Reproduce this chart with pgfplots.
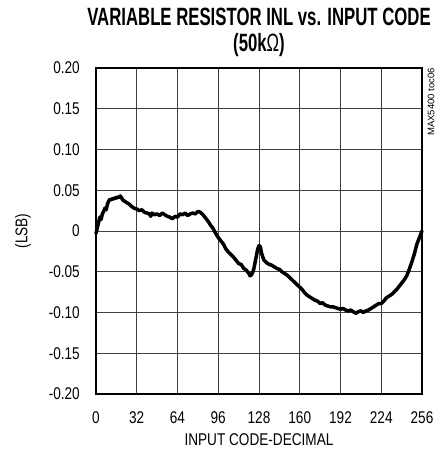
\documentclass[border=0pt]{standalone}
\usepackage{fontspec}
\setmainfont{Liberation Sans}[FakeStretch=0.8]
\newfontfamily\titlefont{Liberation Sans}[FakeStretch=0.67]
\newfontfamily\plainfont{Liberation Sans}
\usepackage{pgfplots}
\pgfplotsset{compat=1.18}

\pgfplotstableread{
code inl
0 -0.003
1 0.004
2 0.010
3 0.017
4 0.014
5 0.021
6 0.024
7 0.028
8 0.026
9 0.033
10 0.037
11 0.039
12 0.038
13 0.040
14 0.039
15 0.041
16 0.040
17 0.042
18 0.041
19 0.043
20 0.041
21 0.038
22 0.037
24 0.035
26 0.033
28 0.030
30 0.028
32 0.027
34 0.025
36 0.026
38 0.023
40 0.022
42 0.021
43 0.018
44 0.022
46 0.020
48 0.021
50 0.019
52 0.022
54 0.020
56 0.018
58 0.017
60 0.015
62 0.018
64 0.017
66 0.021
68 0.020
70 0.022
72 0.019
74 0.021
76 0.022
78 0.021
80 0.024
82 0.023
84 0.020
86 0.016
88 0.012
90 0.007
92 0.003
94 -0.003
96 -0.008
98 -0.012
100 -0.016
102 -0.022
104 -0.026
106 -0.029
108 -0.032
110 -0.036
112 -0.040
114 -0.041
116 -0.046
118 -0.048
120 -0.052
121 -0.055
122 -0.054
123 -0.051
124 -0.046
125 -0.038
126 -0.030
127 -0.022
128 -0.018
129 -0.019
130 -0.027
131 -0.032
132 -0.036
134 -0.039
136 -0.041
138 -0.042
140 -0.044
142 -0.046
144 -0.047
146 -0.050
148 -0.052
150 -0.054
152 -0.057
154 -0.060
156 -0.063
158 -0.066
160 -0.069
162 -0.072
164 -0.076
166 -0.079
168 -0.081
170 -0.083
172 -0.085
174 -0.086
176 -0.089
178 -0.088
180 -0.091
182 -0.092
184 -0.093
186 -0.093
188 -0.094
190 -0.095
192 -0.096
194 -0.095
196 -0.097
198 -0.098
200 -0.097
202 -0.099
204 -0.101
206 -0.099
208 -0.098
210 -0.100
212 -0.098
214 -0.097
216 -0.095
218 -0.093
220 -0.091
222 -0.089
224 -0.089
226 -0.086
228 -0.082
230 -0.080
232 -0.078
234 -0.075
236 -0.072
238 -0.068
240 -0.064
242 -0.060
244 -0.055
246 -0.047
248 -0.038
250 -0.028
252 -0.016
254 -0.008
256 0.000
}\inltable

\begin{document}
\begin{tikzpicture}
\useasboundingbox (-96pt,-60pt) rectangle (349pt,394pt);
\begin{axis}[
    scale only axis,
    width=326pt, height=326pt,
    xmin=0, xmax=256,
    ymin=-0.20, ymax=0.20,
    xtick={0,32,...,256},
    ytick={-0.20,-0.15,-0.10,-0.05,0,0.05,0.10,0.15,0.20},
    yticklabels={-0.20,-0.15,-0.10,-0.05,0,0.05,0.10,0.15,0.20},
    /pgf/number format/assume math mode=true,
    major tick length=0pt,
    grid=major,
    major grid style={black!75, line width=0.9pt},
    axis line style={line width=2.6pt},
    tick label style={font=\fontsize{17}{19}\selectfont},
    yticklabel style={inner sep=0pt, xshift=-16pt},
    xticklabel style={inner sep=0pt, yshift=-17pt},
    xlabel={INPUT CODE-DECIMAL},
    ylabel={(LSB)},
    every axis x label/.style={at={(axis description cs:0.5,-0.1595)}, anchor=base, font=\fontsize{17}{19}\selectfont},
    every axis y label/.style={at={(axis description cs:-0.224,0.5)}, rotate=90, anchor=center, font=\fontsize{17}{19}\selectfont},
    clip=false,
]
\addplot[black, line width=3.5pt, line join=round, line cap=round] table[x=code, y=inl] {\inltable};
\node[anchor=base, inner sep=0pt, font=\titlefont\bfseries\fontsize{25}{27}\selectfont]
    at (axis description cs:0.5,1.129) {VARIABLE RESISTOR INL vs. INPUT CODE};
\node[anchor=base, inner sep=0pt, font=\titlefont\bfseries\fontsize{25}{27}\selectfont]
    at (axis description cs:0.5,1.052) {(50k{\mdseries Ω})};
\node[rotate=90, anchor=east, inner sep=0pt, font=\plainfont\fontsize{9.5}{11}\selectfont]
    at ([xshift=9pt]axis description cs:1,1) {MAX5400 toc06};
\end{axis}
\end{tikzpicture}
\end{document}
